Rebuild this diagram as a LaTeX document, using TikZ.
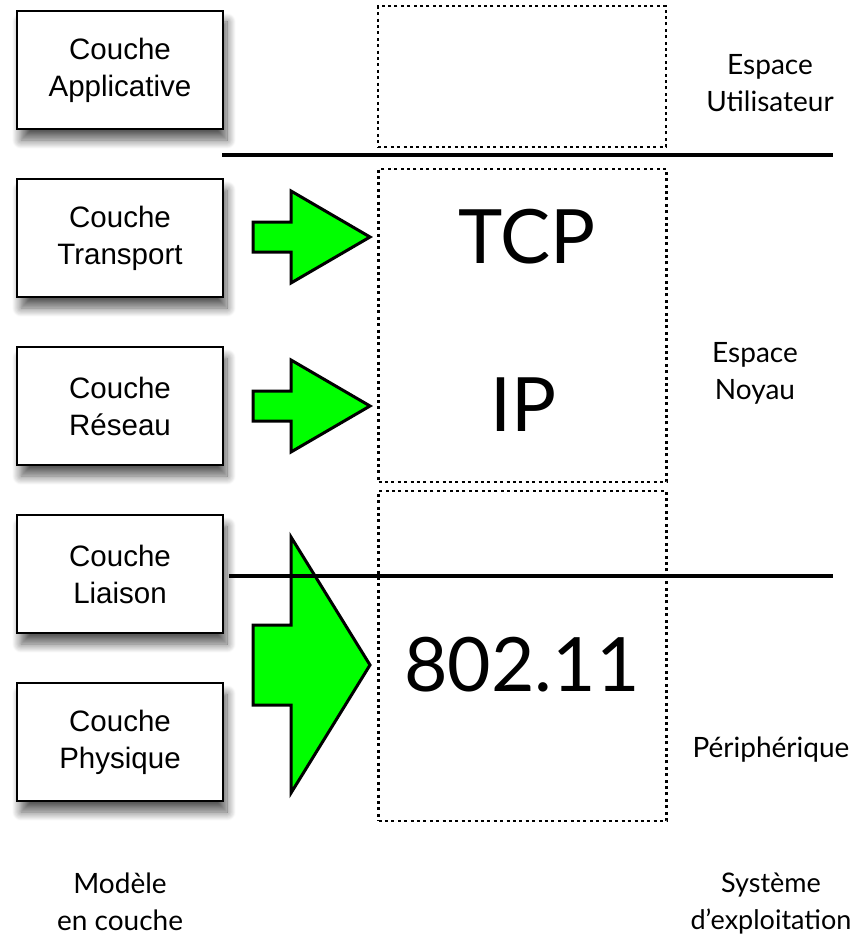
\documentclass[tikz,border=0pt]{standalone}
\usepackage{fontspec}
\setmainfont{Liberation Sans}
\newfontfamily\gill{Lato}
\usetikzlibrary{positioning,shadows.blur}
\newcommand{\fleche}[3]{% centre y, demi-queue, demi-tete
  \draw[vert] (253,#1-#2) -- (291,#1-#2) -- (291,#1-#3) -- (370,#1)
    -- (291,#1+#3) -- (291,#1+#2) -- (253,#1+#2) -- cycle;}
\tikzset{
  couche/.style={draw,line width=2.5pt,fill=white,
    minimum width=206pt,minimum height=118pt,align=center,
    font=\fontsize{29.5}{37}\selectfont,
    blur shadow={shadow xshift=4pt,shadow yshift=-11pt,shadow blur steps=12,shadow blur radius=9pt,shadow opacity=65}},
  espace/.style={draw,line width=2.6pt,dash pattern=on 3pt off 3.4pt,
    minimum width=288pt,inner sep=0pt},
  proto/.style={font=\gill\fontsize{75}{75}\selectfont},
  legende/.style={align=center,font=\gill\fontsize{28}{37}\selectfont},
  vert/.style={draw,line width=3pt,fill=green,line join=miter},
  separation/.style={line width=4.5pt}
}
\begin{document}
\begin{tikzpicture}[x=1pt,y=-1pt]
  \useasboundingbox (0,0) rectangle (861,936);
  % modele en couche
  \node[couche] (app) at (120,70) {Couche\\Applicative};
  \node[couche,below=47.5pt of app] (trans) {Couche\\Transport};
  \node[couche,below=47.5pt of trans] (res) {Couche\\R\'eseau};
  \node[couche,below=47.5pt of res] (liai) {Couche\\Liaison};
  \node[couche,below=47.5pt of liai] (phys) {Couche\\Physique};
  % systeme
  \node[espace,minimum height=141pt] (user) at (522,76.5) {};
  \node[espace,minimum height=313pt] (noyau) at (522.5,325.5) {};
  \node[espace,minimum height=330pt] (peri) at (522.5,656) {};
  \node[proto] (tcp) at (527,237) {TCP};
  \node[proto] (ip) at (524,405) {IP};
  \node[proto] (wifi) at (522,665) {802.11};
  % fleches
  \fleche{237}{15}{46}
  \fleche{406}{15}{46}
  \fleche{665}{40}{128}
  \draw[separation] (222,155) -- (833,155);
  \draw[separation] (229,576) -- (833,576);
  % legendes
  \node[legende] (eu) at (770,83) {Espace\\Utilisateur};
  \node[legende] (en) at (755,373) {Espace\\Noyau};
  \node[legende] (per) at (771,750) {P\'eriph\'erique};
  \node[legende,font=\gill\fontsize{28}{37}\selectfont] (mod) at (120,902) {Mod\`ele\\en couche};
  \node[legende,font=\gill\fontsize{27}{37}\selectfont] (os) at (771,904) {Syst\`eme\\d’exploitation};
\end{tikzpicture}
\end{document}
